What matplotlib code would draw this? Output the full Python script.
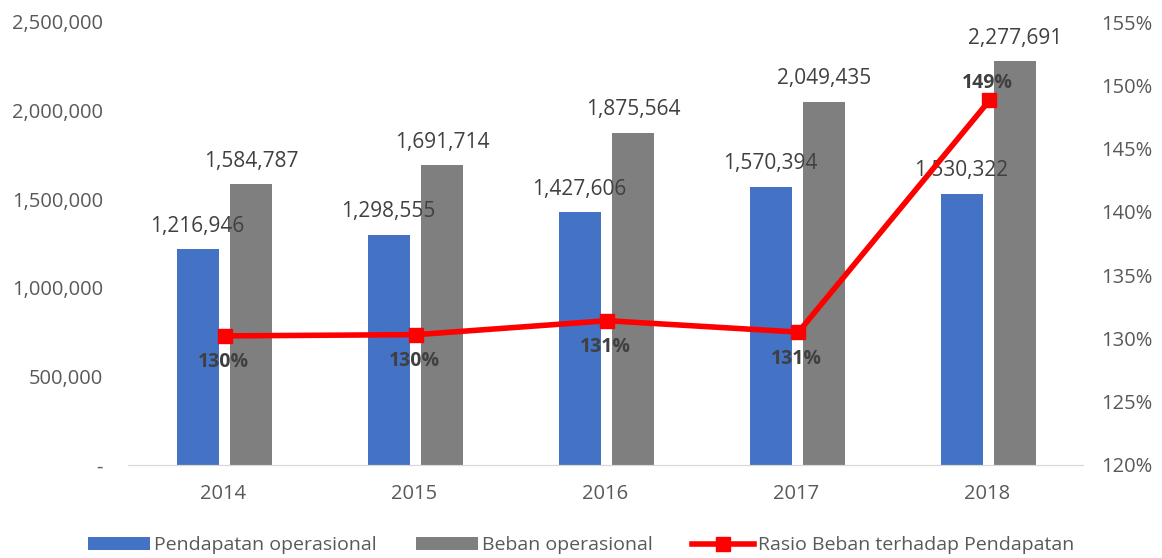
import matplotlib.pyplot as plt
import numpy as np
from matplotlib.ticker import FuncFormatter

# data
tahun = ['2014', '2015', '2016', '2017', '2018']
pendapatan = [1216946, 1298555, 1427606, 1570394, 1530322]
beban = [1584787, 1691714, 1875564, 2049435, 2277691]
rasio = [130.2, 130.3, 131.4, 130.5, 148.8]
rasio_label = ['130%', '130%', '131%', '131%', '149%']

plt.rcParams['font.family'] = ['Open Sans', 'DejaVu Sans']
abu = '#595959'

fig = plt.figure(figsize=(11.62, 5.58), dpi=100)
ax = fig.add_axes([128/1162, 1-465/558, 955/1162, 443/558])
ax2 = ax.twinx()

x = np.arange(len(tahun))
lebar = 0.22
b1 = ax.bar(x - 0.136, pendapatan, lebar, color='#4472C4', label='Pendapatan operasional')
b2 = ax.bar(x + 0.146, beban, lebar, color='#7F7F7F', label='Beban operasional')

for i in range(len(tahun)):
    ax.text(x[i] - 0.136, pendapatan[i] + 70000, f'{pendapatan[i]:,}', ha='center', va='bottom',
            fontsize=15, color='#404040')
    ax.text(x[i] + 0.146, beban[i] + 70000, f'{beban[i]:,}', ha='center', va='bottom',
            fontsize=15, color='#404040')

ax.set_ylim(0, 2500000)
ax.set_xlim(-0.5, 4.5)
ax.set_yticks(range(0, 2500001, 500000))
ax.yaxis.set_major_formatter(FuncFormatter(lambda v, p: '-' if v == 0 else f'{int(v):,}'))
ax.set_xticks(x)
ax.set_xticklabels(tahun)

garis, = ax2.plot(x + 0.01, rasio, color='#FF0000', lw=4, marker='s', markersize=10,
                  label='Rasio Beban terhadap Pendapatan')
ax2.set_ylim(120, 155)
ax2.set_yticks(range(120, 156, 5))
ax2.yaxis.set_major_formatter(FuncFormatter(lambda v, p: f'{int(v)}%'))

for i in range(len(tahun)):
    if i == 4:
        ax2.text(x[i], rasio[i] + 0.6, rasio_label[i], ha='center', va='bottom', fontsize=14,
                 fontweight='bold', color='#404040')
    else:
        ax2.text(x[i], rasio[i] - 1.3, rasio_label[i], ha='center', va='top', fontsize=14,
                 fontweight='bold', color='#404040')

for a in (ax, ax2):
    for s in ['top', 'right', 'left']:
        a.spines[s].set_visible(False)
    a.spines['bottom'].set_color('#D9D9D9')
    a.tick_params(length=0, labelsize=14.5, labelcolor=abu)
ax.tick_params(axis='y', pad=18)
ax.tick_params(axis='x', pad=14)
ax2.tick_params(axis='y', pad=13)

fig.legend(handles=[b1, b2, garis], loc='lower center', ncol=3, frameon=False,
           bbox_to_anchor=(0.5, -0.025), fontsize=14, labelcolor=abu, handlelength=3.2,
           columnspacing=2.0, handletextpad=0.2)

plt.savefig('out.png', dpi=100)
